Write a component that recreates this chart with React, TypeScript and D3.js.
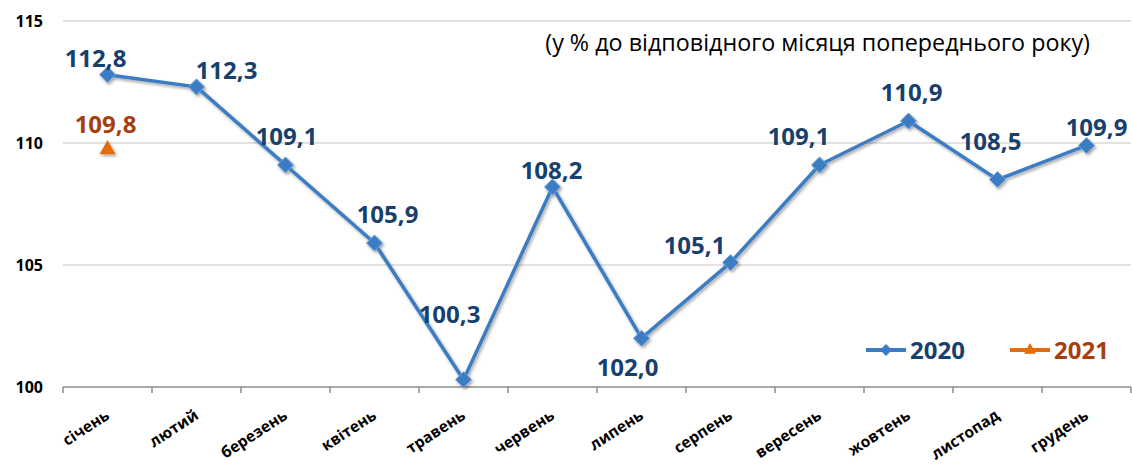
import React from "react";
import * as d3 from "d3";

const months = ["січень","лютий","березень","квітень","травень","червень","липень","серпень","вересень","жовтень","листопад","грудень"];
const values2020 = [112.8,112.3,109.1,105.9,100.3,108.2,102.0,105.1,109.1,110.9,108.5,109.9];
const values2021 = [109.8];
const yTicks = [100,105,110,115];
const seriesNames = ["2020","2021"];
const note = "(у % до відповідного місяця попереднього року)";

// label placement offsets (dx, dy) relative to point
const labelOffsets2020: [number, number][] = [
  [-12,-8],[30,-8],[1,-20],[13,-20],[-14,-57],[-1,-8],[-14,38],[-36,-9],[-21,-20],[3,-20],[-7,-30],[10,-9]
];
const labelOffsets2021: [number, number][] = [[-2,-15]];

const W = 1132, H = 464;
const left = 63, right = 1131, top = 21, bottom = 387;
const BLUE = "#3B7CC3";
const DARKBLUE = "#17406D";
const ORANGE = "#E46C0A";
const BROWN = "#A5400E";
const FONT = "'Open Sans', sans-serif";

export default function App() {
  const x = d3.scaleBand<string>().domain(months).range([left, right]);
  const y = d3.scaleLinear().domain([100, 115]).range([bottom, top]);
  const cx = (m: string) => (x(m) as number) + x.bandwidth() / 2;
  const line = d3.line<number>().x((_, i) => cx(months[i])).y(v => y(v));
  const diamond = (px: number, py: number, r: number) => `M${px},${py - r}L${px + r},${py}L${px},${py + r}L${px - r},${py}Z`;
  const tri = (px: number, py: number, r: number) => `M${px},${py - r}L${px + r},${py + r * 0.8}L${px - r},${py + r * 0.8}Z`;
  const tickXs = months.map(m => x(m) as number).concat([right]);

  return (
    <svg width={W} height={H} style={{ position: "absolute", left: 0, top: 0, background: "#fff" }} fontFamily={FONT}>
      <defs>
        <filter id="sh" x="-50%" y="-50%" width="200%" height="200%">
          <feDropShadow dx="1.5" dy="2" stdDeviation="1.5" floodColor="#000" floodOpacity="0.35" />
        </filter>
      </defs>
      {yTicks.filter(t => t !== 100).map(t => (
        <line key={t} x1={left} x2={right} y1={y(t)} y2={y(t)} stroke="#D9D9D9" strokeWidth={1.3} />
      ))}
      <line x1={left} x2={right} y1={bottom} y2={bottom} stroke="#8C8C8C" strokeWidth={1.5} />
      {tickXs.map((tx, i) => (
        <line key={i} x1={tx} x2={tx} y1={bottom} y2={bottom + 6} stroke="#8C8C8C" strokeWidth={1.5} />
      ))}
      {yTicks.map(t => (
        <text key={t} x={43} y={y(t)} dy="0.35em" textAnchor="end" fontSize={16} fontWeight={700} fill="#000">{t}</text>
      ))}
      {months.map(m => (
        <text key={m} transform={`translate(${cx(m) + 3},${bottom + 31}) rotate(-33)`} textAnchor="end" fontSize={15.5} fontWeight={700} fill="#000">{m}</text>
      ))}
      <text x={1090} y={51} textAnchor="end" fontSize={23.3} fill="#000">{note}</text>

      <g filter="url(#sh)">
        <path d={line(values2020) || ""} fill="none" stroke={BLUE} strokeWidth={3.5} strokeLinejoin="round" />
        {values2020.map((v, i) => (
          <path key={i} d={diamond(cx(months[i]), y(v), 8)} fill={BLUE} stroke="#6FA3DB" strokeWidth={1} />
        ))}
        {values2021.map((v, i) => (
          <path key={i} d={tri(cx(months[i]), y(v), 8)} fill={ORANGE} />
        ))}
      </g>

      {values2020.map((v, i) => (
        <text key={i} x={cx(months[i]) + labelOffsets2020[i][0]} y={y(v) + labelOffsets2020[i][1]} textAnchor="middle" fontSize={24} fontWeight={700} fill={DARKBLUE}>{v.toFixed(1).replace(".", ",")}</text>
      ))}
      {values2021.map((v, i) => (
        <text key={i} x={cx(months[i]) + labelOffsets2021[i][0]} y={y(v) + labelOffsets2021[i][1]} textAnchor="middle" fontSize={24} fontWeight={700} fill={BROWN}>{v.toFixed(1).replace(".", ",")}</text>
      ))}

      {/* legend */}
      <g>
        <line x1={866} x2={906} y1={350} y2={350} stroke={BLUE} strokeWidth={4} />
        <path d={diamond(886, 350, 6)} fill={BLUE} />
        <text x={910} y={359} fontSize={24} fontWeight={700} fill={DARKBLUE}>{seriesNames[0]}</text>
        <line x1={1010} x2={1050} y1={350} y2={350} stroke={ORANGE} strokeWidth={4} />
        <path d={tri(1030, 349, 6)} fill={ORANGE} />
        <text x={1054} y={359} fontSize={24} fontWeight={700} fill={BROWN}>{seriesNames[1]}</text>
      </g>
    </svg>
  );
}
